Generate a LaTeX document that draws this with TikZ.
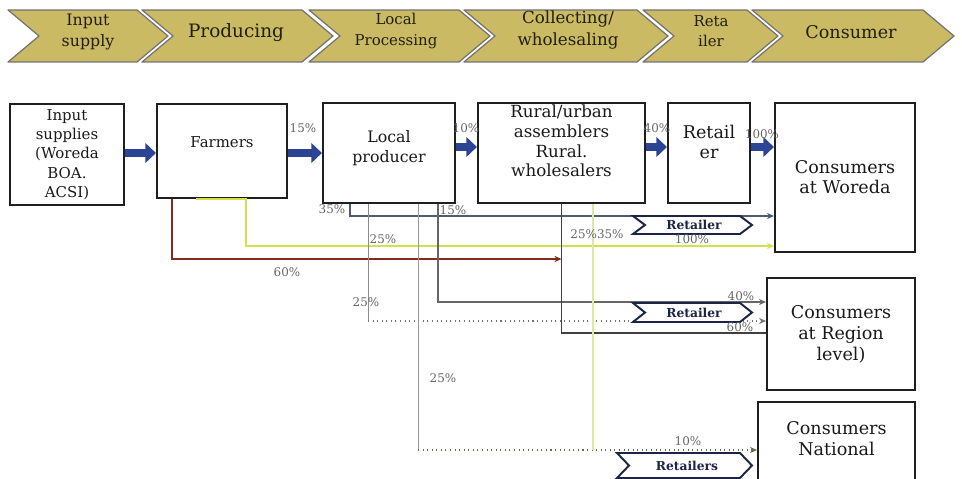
\documentclass[tikz,border=0pt]{standalone}
\usepackage{fontspec}
\setmainfont{DejaVu Serif}
\usetikzlibrary{arrows.meta,calc}

\newcommand\pxu{0.02cm}
\definecolor{bandfill}{RGB}{203,186,100}
\definecolor{bandtext}{RGB}{36,30,14}
\definecolor{flowblue}{RGB}{44,68,148}
\definecolor{navyline}{RGB}{28,36,72}
\definecolor{slateline}{RGB}{78,90,118}
\definecolor{yellowline}{RGB}{212,224,76}
\definecolor{paleyellow}{RGB}{222,232,164}
\definecolor{brownline}{RGB}{130,44,32}
\definecolor{natline}{RGB}{96,110,80}

\tikzset{
  band/.style={fill=bandfill, draw=black!55, line width=0.7pt, line join=round},
  bandtxt/.style={text=bandtext, align=center, inner sep=0pt},
  box/.style={draw=black!88, line width=1.2pt, inner sep=0pt, align=center, text=black!90},
  boxtxt/.style={align=center, inner sep=0pt, text=black!90},
  bigarrow/.style={draw=flowblue, line width=4.5pt, -{Triangle[length=6pt,width=11pt]}},
  flow/.style={line width=0.6pt, -{Stealth[length=4pt,width=3.5pt]}},
  pct/.style={text=black!60, inner sep=0pt, font=\fontsize{6.8}{7}\selectfont},
  retchev/.style={draw=navyline, line width=1.1pt, fill=white},
  rettxt/.style={inner sep=0pt, text=navyline, font=\fontsize{7}{8}\selectfont\bfseries},
}

\begin{document}
\begin{tikzpicture}[x=0.02cm, y=-0.02cm]
  \useasboundingbox (0,0) rectangle (962,479);
  \clip (0,0) rectangle (962,479);

  % stage banner
  \foreach \lft/\rgt in {8/168, 142/333, 309/490, 464/668, 643/778, 752/954}
    \draw[band] (\lft,10) -- (\rgt-31,10) -- (\rgt,36) -- (\rgt-31,62) -- (\lft,62) -- (\lft+31,36) -- cycle;
  \node[bandtxt, font=\fontsize{9}{11.5}\selectfont] (sinput) at (88,32) {Input\\supply};
  \node[bandtxt, font=\fontsize{10.5}{12}\selectfont] (sprod) at (236,33) {Producing};
  \node[bandtxt, font=\fontsize{8.5}{12.5}\selectfont] (slocal) at (396,31) {Local\\Processing};
  \node[bandtxt, font=\fontsize{9.5}{12.5}\selectfont] (scollect) at (568,30) {Collecting/\\wholesaling};
  \node[bandtxt, font=\fontsize{8.5}{11.5}\selectfont] (sretail) at (711,31) {Reta\\iler};
  \node[bandtxt, font=\fontsize{10}{12}\selectfont] (sconsum) at (851,32) {Consumer};

  % actors
  \node[box, minimum width=114*\pxu, minimum height=101*\pxu, font=\fontsize{8.5}{11}\selectfont] (inp) at (67,154.5) {Input\\supplies\\(Woreda\\BOA.\\ACSI)};
  \node[box, minimum width=130*\pxu, minimum height=94*\pxu] (farm) at (222,151) {};
  \node[boxtxt, font=\fontsize{8.5}{11}\selectfont] (farmlbl) at (222,142) {Farmers};
  \node[box, minimum width=132*\pxu, minimum height=100*\pxu] (loc) at (389,153) {};
  \node[boxtxt, font=\fontsize{9}{11}\selectfont] (loclbl) at (389,148) {Local\\producer};
  \node[box, minimum width=167*\pxu, minimum height=100*\pxu] (rur) at (561.5,153) {};
  \node[boxtxt, font=\fontsize{9.5}{11.2}\selectfont] (rurlbl) at (561.5,141) {Rural/urban\\assemblers\\Rural.\\wholesalers};
  \node[box, minimum width=82*\pxu, minimum height=100*\pxu] (ret) at (709,153) {};
  \node[boxtxt, font=\fontsize{10}{11}\selectfont] (retlbl) at (709,142) {Retail\\er};
  \node[box, minimum width=140*\pxu, minimum height=149*\pxu, font=\fontsize{10}{11.5}\selectfont] (cw) at (845,177.5) {Consumers\\at Woreda};
  \node[box, minimum width=148*\pxu, minimum height=112*\pxu, font=\fontsize{10}{12}\selectfont] (rg) at (841,334) {Consumers\\at Region\\level)};
  \node[box, minimum width=157*\pxu, minimum height=98*\pxu] (nat) at (836.5,451) {};
  \node[boxtxt, font=\fontsize{10}{12}\selectfont] (natlbl) at (836.5,438.5) {Consumers\\National};

  % main chain
  \coordinate (row1) at (0,153);
  \coordinate (row2) at (0,147);
  \draw[bigarrow] (inp.east |- row1) -- (farm.west |- row1);
  \draw[bigarrow] (farm.east |- row1) -- (loc.west |- row1);
  \draw[bigarrow] (loc.east |- row2) -- (rur.west |- row2);
  \draw[bigarrow] (rur.east |- row2) -- (ret.west |- row2);
  \draw[bigarrow] (ret.east |- row2) -- (cw.west |- row2);

  % side channels
  \coordinate (x35) at (350,0);
  \coordinate (x25a) at (368,0);
  \coordinate (x25b) at (418,0);
  \coordinate (x15) at (438,0);
  \coordinate (x35b) at (593,0);
  \coordinate (y35) at (0,216);
  \coordinate (yyel) at (0,246);
  \coordinate (y60) at (0,259);
  \coordinate (y40) at (0,302);
  \coordinate (y60b) at (0,321);
  \coordinate (yrur) at (0,333);
  \coordinate (ynat) at (0,450);

  \draw[flow, draw=brownline, line width=0.9pt] ($(farm.south west)+(16,0)$) |- (rur.south |- y60);
  \draw[flow, draw=yellowline, line width=1.3pt] ($(farm.south west)+(40,0)$) -- ($(farm.south west)+(90,0)$) |- (cw.west |- yyel);
  \draw[flow, draw=slateline] (loc.south -| x35) |- (cw.west |- y35);
  \draw[draw=black!45] (loc.south -| x25a) -- (x25a |- y60b);
  \draw[flow, draw=black!55, dotted] (x25a |- y60b) -- (rg.west |- y60b);
  \draw[draw=black!40] (loc.south -| x25b) -- (x25b |- ynat);
  \draw[flow, draw=natline, dotted, line width=0.8pt] (x25b |- ynat) -- (nat.west |- ynat);
  \draw[flow, draw=black!60] (loc.south -| x15) |- (rg.west |- y40);
  \draw[draw=black!75, line width=0.9pt] (rur.south) |- (rg.west |- yrur);
  \draw[draw=paleyellow, line width=1pt] (rur.south -| x35b) -- (x35b |- ynat);

  % retailer markers
  \foreach \lft/\rgt/\tp/\bt in {633/752/216/234, 633/752/303/322, 617/752/453/478}
    \draw[retchev] (\lft,\tp) -- (\rgt-12,\tp) -- (\rgt,{(\tp+\bt)/2}) -- (\rgt-12,\bt) -- (\lft,\bt) -- (\lft+12,{(\tp+\bt)/2}) -- cycle;
  \node[rettxt] (rchw) at (694,225) {Retailer};
  \node[rettxt] (rchr) at (694,312.5) {Retailer};
  \node[rettxt] (rchn) at (687,466) {Retailers};

  % shares
  \node[pct] (p15) at (303,128) {15\%};
  \node[pct] (p10) at (466,128) {10\%};
  \node[pct] (p40) at (657,128) {40\%};
  \node[pct] (p100) at (762,134) {100\%};
  \node[pct] (p35) at (332,209) {35\%};
  \node[pct] (p15b) at (453,210) {15\%};
  \node[pct] (p25a) at (383,239) {25\%};
  \node[pct] (p2535) at (597,234) {25\%35\%};
  \node[pct] (p100b) at (692,239) {100\%};
  \node[pct] (p60) at (287,272) {60\%};
  \node[pct] (p40b) at (741,296) {40\%};
  \node[pct] (p25b) at (366,302) {25\%};
  \node[pct] (p60b) at (740,327) {60\%};
  \node[pct] (p25c) at (443,378) {25\%};
  \node[pct] (p10b) at (688,441) {10\%};
\end{tikzpicture}
\end{document}
